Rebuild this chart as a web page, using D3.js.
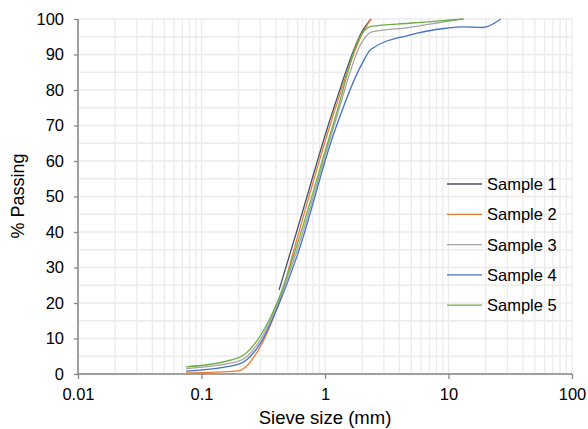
<!DOCTYPE html>
<html>
<head>
<meta charset="utf-8">
<script src="https://cdn.jsdelivr.net/npm/d3@7"></script>
<style>
  body { margin: 0; background: #fff; }
  text { font-family: "Liberation Sans", Arial, sans-serif; fill: #000; }
</style>
</head>
<body>
<div id="chart"></div>
<script>
// sieve sizes (mm) and % passing per sample
const sieves = [0.075, 0.2, 0.3, 0.425, 0.6, 1.18, 2.0, 2.36, 4.75, 9.5, 13.2, 19, 26.5];
const sample1 = [null, null, null, 23.7, 41.0, 75.0, 96.5, 100];
const sample2 = [0.3, 0.9, 7.8, 20.3, 38.7, 73.5, 95.8, 100];
const sample3 = [1.5, 3.6, 9.7, 20.8, 35.3, 69.7, 93.6, 96.3, 97.6, 99.3, 100];
const sample4 = [0.8, 2.8, 8.7, 19.8, 33.7, 67.8, 87.5, 91.5, 95.4, 97.4, 97.8, 97.6, 100];
const sample5 = [2.0, 4.6, 10.8, 21.5, 36.9, 70.9, 96.0, 97.9, 98.8, 99.6, 100];

const seriesNames = ["Sample 1", "Sample 2", "Sample 3", "Sample 4", "Sample 5"];
const seriesValues = [sample1, sample2, sample3, sample4, sample5];
const colors = ["#44546A", "#ED7D31", "#A5A5A5", "#4472C4", "#70AD47"];

const xTicks = [0.01, 0.1, 1, 10, 100];
const yTicks = [0, 10, 20, 30, 40, 50, 60, 70, 80, 90, 100];

const width = 588, height = 429;
const pLeft = 78, pRight = 572, pTop = 19, pBottom = 374;

const svg = d3.select("#chart").append("svg")
    .attr("width", width)
    .attr("height", height);

const x = d3.scaleLog().domain([0.01, 100]).range([pLeft, pRight]);
const y = d3.scaleLinear().domain([0, 100]).range([pBottom, pTop]);

// grid: minor x lines 1..9 in each decade, y lines every 5
const grid = svg.append("g").attr("stroke", "#ebebeb").attr("stroke-width", 1.3);
const xGrid = [];
for (let d = 0.01; d < 99; d *= 10) {
  for (let k = 1; k <= 9; k++) xGrid.push(d * k);
}
xGrid.push(100);
grid.selectAll(".gx").data(xGrid).join("line")
    .attr("x1", d => x(d)).attr("x2", d => x(d))
    .attr("y1", pTop).attr("y2", pBottom);
grid.selectAll(".gy").data(d3.range(0, 101, 5)).join("line")
    .attr("x1", pLeft).attr("x2", pRight)
    .attr("y1", d => y(d)).attr("y2", d => y(d));

// lines (smoothed)
svg.append("clipPath").attr("id", "clip")
  .append("rect").attr("x", pLeft).attr("y", pTop - 1)
  .attr("width", pRight - pLeft).attr("height", pBottom - pTop + 1);

const line = d3.line()
    .x(d => x(d.s))
    .y(d => y(d.v))
    .curve(d3.curveMonotoneX);

const plot = svg.append("g").attr("clip-path", "url(#clip)");
seriesValues.forEach((vals, i) => {
  const pts = vals.map((v, j) => ({s: sieves[j], v: v})).filter(d => d.v != null);
  plot.append("path")
      .attr("d", line(pts))
      .attr("fill", "none")
      .attr("stroke", colors[i])
      .attr("stroke-width", 1.3);
});

// axes
const xAxis = d3.axisBottom(x).tickValues(xTicks).tickSize(5).tickPadding(9)
    .tickFormat(d => d3.format("")(d));
const gx = svg.append("g")
    .attr("transform", "translate(0," + pBottom + ")")
    .call(xAxis);
gx.selectAll("text").attr("font-size", 16.5).attr("fill", "#000");

const yAxis = d3.axisLeft(y).tickValues(yTicks).tickSize(4).tickPadding(10);
const gy = svg.append("g")
    .attr("transform", "translate(" + pLeft + ",0)")
    .call(yAxis);
gy.selectAll("text").attr("font-size", 16.5).attr("fill", "#000");

[gx, gy].forEach(g => {
  g.select(".domain").attr("stroke", "#868686").attr("stroke-width", 1.5);
  g.selectAll(".tick line").attr("stroke", "#868686").attr("stroke-width", 1.3);
});
gx.select(".domain").attr("d", "M" + pLeft + ",0H" + pRight);
gy.select(".domain").attr("d", "M0," + pBottom + "V" + pTop);

// axis titles
svg.append("text")
    .attr("x", 325).attr("y", 424)
    .attr("text-anchor", "middle")
    .attr("font-size", 18.5)
    .text("Sieve size (mm)");

svg.append("text")
    .attr("transform", "translate(24,196) rotate(-90)")
    .attr("text-anchor", "middle")
    .attr("font-size", 18)
    .text("% Passing");

// legend
const legend = svg.append("g");
seriesNames.forEach((name, i) => {
  const ly = 184 + i * 30.3;
  legend.append("line")
      .attr("x1", 447).attr("x2", 482)
      .attr("y1", ly).attr("y2", ly)
      .attr("stroke", colors[i]).attr("stroke-width", 1.3);
  legend.append("text")
      .attr("x", 487).attr("y", ly + 6)
      .attr("font-size", 16.5)
      .text(name);
});
</script>
</body>
</html>
